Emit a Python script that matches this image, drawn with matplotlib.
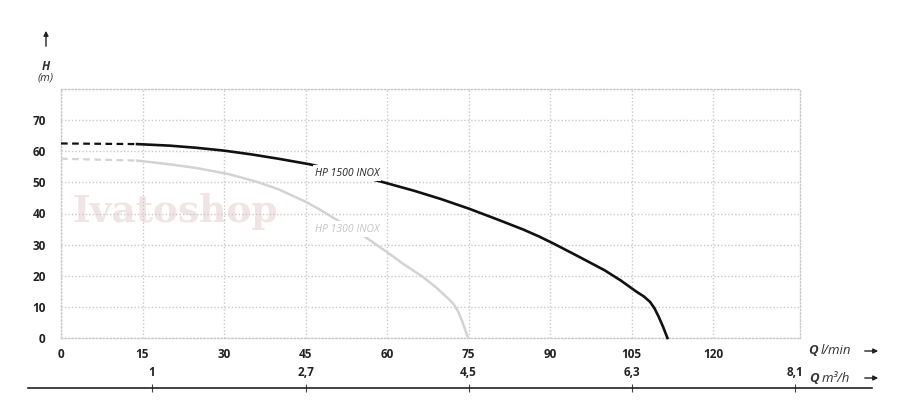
import numpy as np
import matplotlib.pyplot as plt

plt.rcParams['font.family'] = ['Open Sans', 'DejaVu Sans']

# portata Q (l/min) e prevalenza H (m)
q_dash = [0, 14]
h1500_dash = [62.5, 62.3]
h1300_dash = [57.6, 57.0]

q1500 = [14, 20, 25, 30, 35, 40, 45.8, 52, 59, 65, 70, 75, 80, 85, 88, 90.8, 95, 100, 103,
         105.8, 107.3, 108.4, 109.2, 110.0, 110.8, 111.6]
h1500 = [62.3, 61.8, 61.1, 60.2, 59.0, 57.6, 55.8, 53.3, 50.2, 47.3, 44.6, 41.6, 38.3, 34.9, 32.6,
         30.2, 26.4, 21.8, 18.5, 15.0, 13.3, 11.6, 9.6, 6.8, 3.6, 0.0]

q1300 = [14, 20, 25, 31, 36, 40, 45, 47.6, 50.4, 53, 56.2, 60, 63, 66.6, 69, 71, 72.2, 73.0,
         73.6, 74.2, 74.9]
h1300 = [57.0, 55.8, 54.6, 52.6, 50.2, 47.8, 43.8, 41.3, 38.3, 35.6, 32.2, 27.6, 23.8, 19.6, 16.3,
         13.1, 11.0, 8.8, 6.4, 3.6, 0.0]

x_ticks = [0, 15, 30, 45, 60, 75, 90, 105, 120]
y_ticks = [0, 10, 20, 30, 40, 50, 60, 70]
m3h = [1, 2.7, 4.5, 6.3, 8.1]
m3h_labels = ['1', '2,7', '4,5', '6,3', '8,1']

W, H = 900, 404
fig = plt.figure(figsize=(9, 4.04), dpi=100)

x0, x1 = 0, 136
ax = fig.add_axes([61/W, 1-338/H, 739/W, 249/H])
ax.set_xlim(x0, x1)
ax.set_ylim(0, 80)

grid_c = '#c9c9c9'
ax.set_xticks(x_ticks)
ax.set_yticks(y_ticks)
ax.grid(True, color=grid_c, linestyle=(0, (1, 1.5)), linewidth=1)
ax.axhline(80, color=grid_c, linestyle=(0, (1, 1.5)), linewidth=1)
for s in ax.spines.values():
    s.set_color(grid_c)
    s.set_linestyle((0, (1, 1.5)))
    s.set_linewidth(1)
ax.tick_params(length=0, labelsize=8.5, labelcolor='#222222')
ax.tick_params(axis='y', pad=11)
ax.tick_params(axis='x', pad=7)
for lab in ax.get_xticklabels() + ax.get_yticklabels():
    lab.set_fontweight('bold')

# watermark
ax.text(21, 40.5, 'Ivatoshop', family='DejaVu Serif', fontweight='bold',
        fontsize=27, color='#f0e4e4', ha='center', va='center', zorder=1)

# curve
ax.plot(q_dash, h1300_dash, color='#d3d3d3', lw=1.6, ls=(0, (3, 2)), zorder=3)
ax.plot(q1300, h1300, color='#d3d3d3', lw=1.8, zorder=3, clip_on=False,
        solid_joinstyle='round')
ax.plot(q_dash, h1500_dash, color='#111111', lw=1.6, ls=(0, (3, 2)), zorder=4)
ax.plot(q1500, h1500, color='#111111', lw=1.9, zorder=4, clip_on=False,
        solid_joinstyle='round')

ax.text(52.6, 53.0, 'HP 1500 INOX', style='italic', fontsize=7.5, color='#222222',
        ha='center', va='center', zorder=5,
        bbox=dict(facecolor='white', edgecolor='none', pad=1.5))
ax.text(52.6, 35.0, 'HP 1300 INOX', style='italic', fontsize=7.5, color='#c4c4c4',
        ha='center', va='center', zorder=5,
        bbox=dict(facecolor='white', edgecolor='none', pad=1.5))

# asse secondario m3/h
px = (x1 - x0) / 739
ax2 = fig.add_axes([28/W, 1-388/H, 844/W, 0.001])
ax2.set_xlim(x0 - 33*px, x1 + 72*px)
ax2.set_ylim(0, 1)
for k in ['left', 'right', 'bottom']:
    ax2.spines[k].set_visible(False)
ax2.spines['top'].set_color('#222222')
ax2.spines['top'].set_linewidth(1.2)
ax2.set_yticks([])
ax2.xaxis.set_ticks_position('top')
ax2.set_xticks([v * 1000 / 60 for v in m3h])
ax2.set_xticklabels(m3h_labels)
ax2.tick_params(axis='x', direction='inout', length=6, width=0.8, color='#444444',
                labelsize=8.5, labelcolor='#222222', pad=3)
for lab in ax2.get_xticklabels():
    lab.set_fontweight('bold')
ax2.patch.set_visible(False)

# etichette assi
txt_c = '#333333'
fig.text(808/W, 1-351/H, 'Q', fontsize=9.5, fontweight='bold', style='italic', color=txt_c, va='center')
fig.text(821/W, 1-351/H, 'l/min', fontsize=9.5, style='italic', color=txt_c, va='center')
fig.text(809/W, 1-378/H, 'Q', fontsize=9.5, fontweight='bold', style='italic', color=txt_c, va='center')
fig.text(822/W, 1-378/H, 'm³/h', fontsize=9.5, style='italic', color=txt_c, va='center')
for yy in [351, 378]:
    fig.add_artist(plt.matplotlib.patches.FancyArrowPatch(
        (862/W, 1-yy/H), (881/W, 1-yy/H), transform=fig.transFigure,
        arrowstyle='-|>', mutation_scale=7, color='#222222', lw=1))

fig.add_artist(plt.matplotlib.patches.FancyArrowPatch(
    (46/W, 1-49/H), (46/W, 1-28/H), transform=fig.transFigure,
    arrowstyle='-|>', mutation_scale=7, color='#222222', lw=1))
fig.text(46/W, 1-66/H, 'H', fontsize=8.5, fontweight='bold', style='italic', color=txt_c, ha='center', va='center')
fig.text(46/W, 1-78/H, '(m)', fontsize=8, style='italic', color=txt_c, ha='center', va='center')

fig.savefig('out.png', dpi=100)
